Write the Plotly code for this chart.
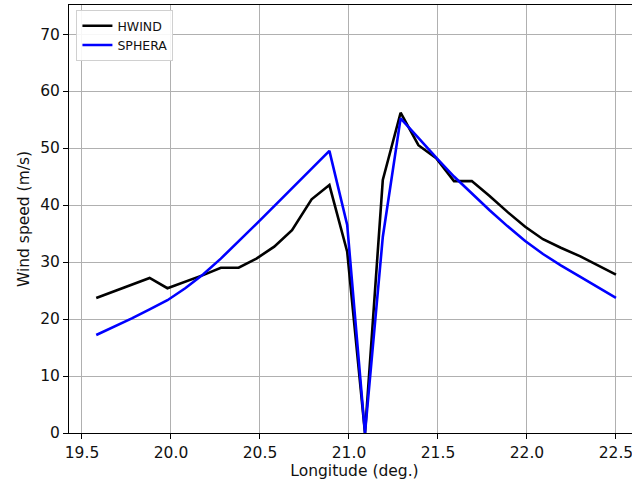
import plotly.graph_objects as go

lon = [19.58, 19.68, 19.78, 19.88, 19.98, 20.08, 20.18, 20.28, 20.38, 20.48,
       20.58, 20.68, 20.79, 20.89, 20.99, 21.09, 21.19, 21.29, 21.39, 21.49,
       21.59, 21.69, 21.79, 21.89, 21.99, 22.09, 22.19, 22.30, 22.40, 22.50]

hwind = [23.7, 24.9, 26.1, 27.2, 25.4, 26.5, 27.7, 29.0, 29.0, 30.6,
         32.7, 35.6, 41.0, 43.5, 31.8, 0.0, 44.4, 56.2, 50.5, 48.2,
         44.2, 44.2, 41.6, 38.8, 36.2, 34.0, 32.5, 31.0, 29.4, 27.8]

sphera = [17.2, 18.6, 20.1, 21.7, 23.3, 25.4, 27.8, 30.6, 33.6, 36.7,
          39.8, 42.9, 46.3, 49.5, 36.5, 0.0, 34.4, 55.2, 51.8, 48.3,
          45.0, 42.0, 39.1, 36.3, 33.7, 31.4, 29.4, 27.4, 25.5, 23.7]

x_ticks = [19.5, 20.0, 20.5, 21.0, 21.5, 22.0, 22.5]
y_ticks = [0, 10, 20, 30, 40, 50, 60, 70]

fig = go.Figure()
fig.add_trace(go.Scatter(x=lon, y=hwind, mode="lines", name="HWIND",
                         line=dict(color="black", width=2.6)))
fig.add_trace(go.Scatter(x=lon, y=sphera, mode="lines", name="SPHERA",
                         line=dict(color="#0000ff", width=2.6)))

font = "DejaVu Sans"
fs = 15.5
# figure is wider than the window so that the right part is cut off like the reference
fig.update_layout(
    width=660, height=482,
    margin=dict(l=69, r=20, t=5, b=49, autoexpand=False),
    paper_bgcolor="white", plot_bgcolor="white",
    font=dict(family=font, size=fs, color="#111"),
    showlegend=True,
    legend=dict(x=0.013, y=0.988, xanchor="left", yanchor="top",
                bgcolor="rgba(255,255,255,0.9)", bordercolor="#d0d0d0",
                borderwidth=1, font=dict(family=font, size=12.5, color="#111"),
                itemwidth=30, tracegroupgap=0),
    xaxis=dict(range=[19.427, 22.635], tickvals=x_ticks,
               ticktext=[f"{v:.1f}" for v in x_ticks],
               showgrid=True, gridcolor="#b0b0b0", gridwidth=1,
               showline=True, linecolor="black", linewidth=1, mirror=True,
               ticks="outside", ticklen=5, tickcolor="black",
               zeroline=False, automargin=False,
               title=dict(text="Longitude (deg.)", standoff=4,
                          font=dict(family=font, size=fs))),
    yaxis=dict(range=[0, 75.1], tickvals=y_ticks,
               showgrid=True, gridcolor="#b0b0b0", gridwidth=1,
               showline=True, linecolor="black", linewidth=1,
               ticks="outside", ticklen=5, tickcolor="black",
               zeroline=False, automargin=False,
               title=dict(text="Wind speed (m/s)", standoff=6,
                          font=dict(family=font, size=fs))),
)

fig.write_html("out.html", config={"displayModeBar": False},
               post_script="document.body.style.margin='0';document.body.style.overflow='hidden';")
